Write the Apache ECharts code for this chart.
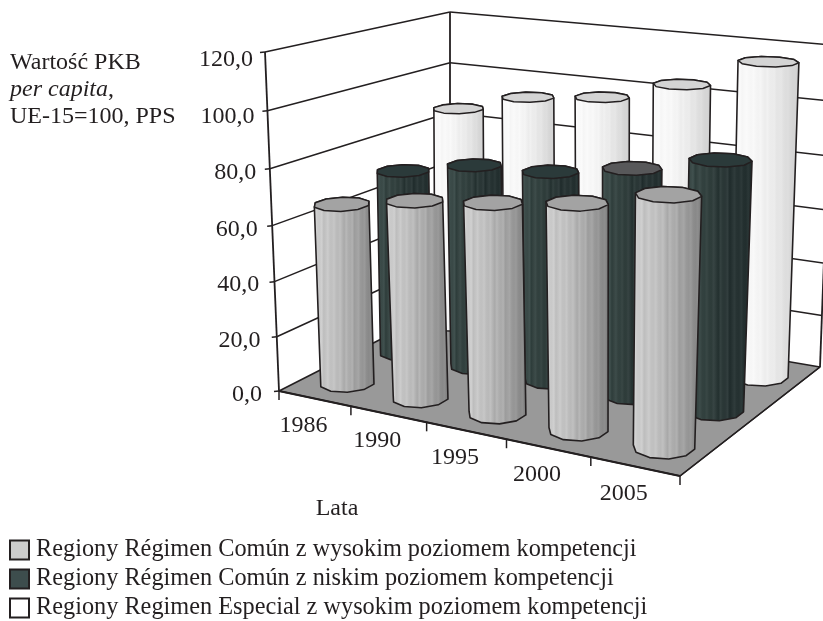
<!DOCTYPE html>
<html><head><meta charset="utf-8">
<style>html,body{margin:0;padding:0;background:#fff}#c{width:823px;height:621px}</style>
<script src="https://cdn.jsdelivr.net/npm/echarts@6/dist/echarts.min.js"></script>
</head><body><div id="c"></div>
<script>
var years = ['1986','1990','1995','2000','2005'];
var yTicks = [0,20,40,60,80,100,120];
var nameLight = 'Regiony Régimen Común z wysokim poziomem kompetencji';
var nameDark = 'Regiony Régimen Común z niskim poziomem kompetencji';
var nameWhite = 'Regiony Regimen Especial z wysokim poziomem kompetencji';
var valuesLight = [65.5,70.7,74,78,85];
var valuesDark = [69.7,75.4,76.7,81.7,88.4];
var valuesWhite = [86.4,93.8,96.8,104.5,115.6];

var W = 823, H = 621;
var chart = echarts.init(document.getElementById('c'), null, {renderer:'canvas', width:W, height:H});

// corners of the 3D box
var L=[279,391], F=[680,476], R=[820,367], B=[450,304], TL=[265,52], TF=[690,102], TR=[832,45], TB=[450,12];
var KV=1.05;

function squareToQuad(p0,p1,p2,p3){
  var dx1=p1[0]-p2[0],dx2=p3[0]-p2[0],sx=p0[0]-p1[0]+p2[0]-p3[0];
  var dy1=p1[1]-p2[1],dy2=p3[1]-p2[1],sy=p0[1]-p1[1]+p2[1]-p3[1];
  var d=dx1*dy2-dx2*dy1, g=(sx*dy2-dx2*sy)/d, h=(dx1*sy-sx*dy1)/d;
  return [p1[0]-p0[0]+g*p1[0], p3[0]-p0[0]+h*p3[0], p0[0],
          p1[1]-p0[1]+g*p1[1], p3[1]-p0[1]+h*p3[1], p0[1], g,h,1];
}
var Hf = squareToQuad(L,F,R,B), Hc = squareToQuad(TL,TF,TR,TB);
function ap(M,x,z){var w=M[6]*x+M[7]*z+M[8];return [(M[0]*x+M[1]*z+M[2])/w,(M[3]*x+M[4]*z+M[5])/w];}
function proj(x,z,v){
  var a=ap(Hf,x,z),b=ap(Hc,x,z),t=v/(v+(1-v)*KV);
  return [a[0]+(b[0]-a[0])*t,a[1]+(b[1]-a[1])*t];
}

var INK='#231f20';
function line(a,b,w,c){return {type:'line',shape:{x1:a[0],y1:a[1],x2:b[0],y2:b[1]},style:{stroke:c||INK,lineWidth:w||1.5}};}
function poly(pts,fill,w){return {type:'polygon',shape:{points:pts},style:{fill:fill,stroke:INK,lineWidth:w||1.5,lineJoin:'round'}};}
function txt(s,x,y,align,size){return {type:'text',style:{text:s,x:x,y:y,align:align||'center',verticalAlign:'middle',fontFamily:'Liberation Serif',fontSize:size||24,fill:INK}};}

function normV(api,v){var a=api.coord([0,0])[1],b=api.coord([0,120])[1];return (a-api.coord([0,v])[1])/(a-b);}

function renderFrame(params,api){
  var kids=[];
  kids.push(poly([L,F,R,B],'#999999',1.5));
  kids.push(line(L,F,2.2));
  kids.push(line(F,R,1.5));
  yTicks.forEach(function(t){
    var v=normV(api,t), a=proj(0,0,v), b=proj(0,1,v), c=proj(1,1,v);
    if(t>0){kids.push(line(a,b,1.5));kids.push(line(b,c,1.5));}
    kids.push(line([a[0]-5,a[1]+0.5],a,1.5));
    kids.push(txt(t.toFixed(1).replace('.',','),a[0]-17+5*v,a[1]+3.5+4.5*v*v*v*v,'right'));
  });
  kids.push(line(L,proj(0,0,1),1.8));
  kids.push(line(B,proj(0,1,1),1.8));
  kids.push(line(R,proj(1,1,1),1.8));
  for(var i=0;i<=5;i++){
    var p=proj(i/5,0,0);
    kids.push(line(p,[p[0],p[1]+9],1.5));
    if(i<5){var m=proj((i+0.5)/5,0,0);kids.push(txt(years[i],m[0]-11,m[1]+27));}
  }
  kids.push(txt('Lata',337,509));
  return {type:'group',children:kids};
}

function hull(pts){
  var s=pts.slice().sort(function(a,b){return a[0]-b[0]||a[1]-b[1];});
  function cr(o,a,b){return (a[0]-o[0])*(b[1]-o[1])-(a[1]-o[1])*(b[0]-o[0]);}
  var lo=[],up=[],i;
  for(i=0;i<s.length;i++){while(lo.length>=2&&cr(lo[lo.length-2],lo[lo.length-1],s[i])<=0)lo.pop();lo.push(s[i]);}
  for(i=s.length-1;i>=0;i--){while(up.length>=2&&cr(up[up.length-2],up[up.length-1],s[i])<=0)up.pop();up.push(s[i]);}
  lo.pop();up.pop();return lo.concat(up);
}
function streaked(c){
  var stops=[],n=c.length-1,k=30;
  for(var i=0;i<=k;i++){
    var t=i/k,u=t*n,a=Math.min(Math.floor(u),n-1),f=u-a,d=(i%3===1)?c.streak:((i%5===0)?-c.streak:0);
    var rgb=[0,1,2].map(function(j){return Math.max(0,Math.min(255,Math.round(c[a][j]*(1-f)+c[a+1][j]*f+d)));});
    stops.push({offset:t,color:'rgb('+rgb.join(',')+')'});
  }
  return new echarts.graphic.LinearGradient(0,0,1,0,stops);
}
var RX=0.063, RZ=0.09, SEG=10, XSHIFT=0.005;
function makeCyl(depth,shade,capFill){
  return function(params,api){
    var i=api.value(0), v=normV(api,api.value(1));
    var x=api.coord([i,0])[0]/W+XSHIFT, z=depth;
    var bot=[],top=[];
    for(var k=0;k<SEG;k++){
      var a=(k+0.5)/SEG*2*Math.PI,dx=RX*Math.cos(a),dz=RZ*Math.sin(a);
      bot.push(proj(x+dx,z+dz,0));top.push(proj(x+dx,z+dz,v));
    }
    var cap=Array.isArray(capFill)?capFill[i]:capFill;
    return {type:'group',children:[
      {type:'polygon',shape:{points:hull(bot.concat(top))},style:{fill:streaked(shade),stroke:INK,lineWidth:1.6,lineJoin:'round'}},
      poly(top,cap,1.5)
    ]};
  };
}
var shadeLight=[[205,205,205],[190,190,190],[165,165,165],[125,125,125]];shadeLight.streak=9;
var shadeDark=[[62,78,76],[48,62,60],[40,52,52],[32,44,44]];shadeDark.streak=9;
var shadeWhite=[[250,250,250],[246,246,246],[232,232,232],[205,205,205]];shadeWhite.streak=3;
function pairs(a){return a.map(function(v,i){return [i,v];});}
function cylSeries(name,vals,depth,shade,cap,legendFill){
  return {type:'custom',name:name,data:pairs(vals),encode:{x:0,y:1},clip:false,silent:true,
    itemStyle:{color:legendFill,borderColor:INK,borderWidth:1.5},
    renderItem:makeCyl(depth,shade,cap)};
}
chart.setOption({
  animation:false,
  backgroundColor:'#fff',
  title:{left:5,top:44,padding:5,itemGap:0,text:'{a|Wartość PKB}\n{b|per capita}{a|,}\n{a|UE-15=100, PPS}',
    textStyle:{rich:{a:{fontFamily:'Liberation Serif',fontSize:24,lineHeight:27,color:INK},
                     b:{fontFamily:'Liberation Serif',fontStyle:'italic',fontSize:24,lineHeight:27,color:INK}},
               fontFamily:'Liberation Serif',fontSize:24,lineHeight:27,color:INK,fontWeight:'normal'}},
  legend:{orient:'vertical',left:9,top:538,height:110,padding:0,itemGap:5,itemWidth:19,itemHeight:19,icon:'rect',
    data:[nameLight,nameDark,nameWhite],selectedMode:false,
    textStyle:{fontFamily:'Liberation Serif',fontSize:24.3,color:INK,padding:[0,0,0,2]}},
  grid:{left:0,right:0,top:0,bottom:0,show:false},
  xAxis:{type:'category',data:years,show:false},
  yAxis:{type:'value',min:0,max:120,interval:20,show:false},
  series:[
    {type:'custom',name:'frame',data:[[0,0]],encode:{x:0,y:1},clip:false,silent:true,renderItem:renderFrame},
    cylSeries(nameWhite,valuesWhite,5/6,shadeWhite,'#d4d4d4','#ffffff'),
    cylSeries(nameDark,valuesDark,3/6,shadeDark,['#2b3a3a','#2b3a3a','#2b3a3a','#58585a','#2b3a3a'],'#3d4d4d'),
    cylSeries(nameLight,valuesLight,1/6,shadeLight,'#a3a3a3','#cccccc')
  ]
});
</script></body></html>
